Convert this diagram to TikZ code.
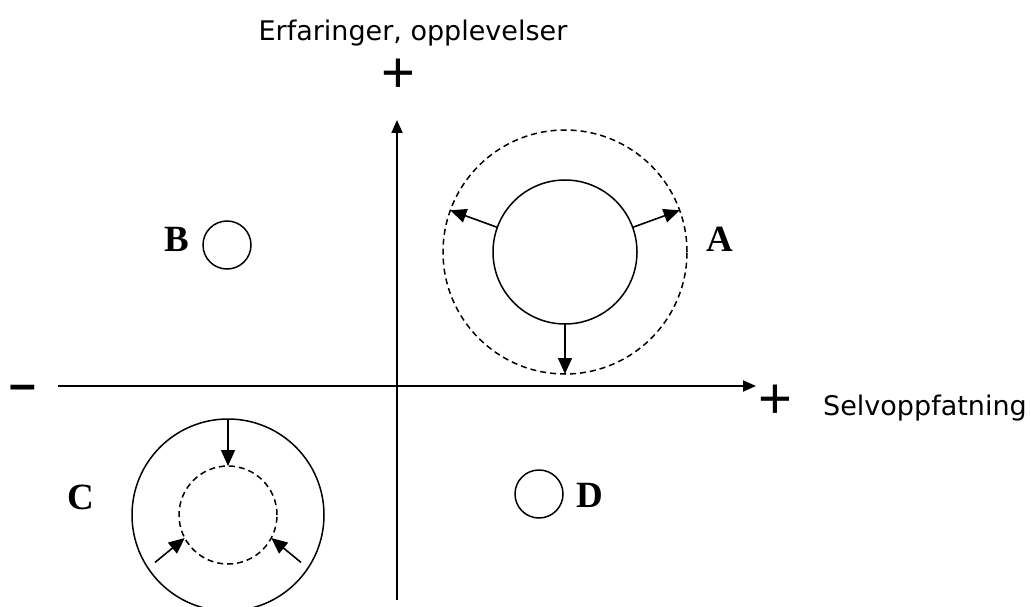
\documentclass[tikz,border=0pt]{standalone}
\usepackage{fontspec}
\usetikzlibrary{arrows.meta,calc}
\newfontfamily\axisfont{DejaVu Sans}
\newfontfamily\signfont{Liberation Sans}
\newfontfamily\letterfont{Liberation Serif}
\tikzset{
  axis/.style={line width=1.8pt, -{Triangle[length=13pt,width=11pt]}},
  ring/.style={circle, draw, line width=1.5pt, inner sep=0pt, outer sep=0pt},
  dashring/.style={ring, dash pattern=on 6pt off 4pt},
  push/.style={line width=1.6pt, -{Triangle[length=16pt,width=14pt]}},
  axislabel/.style={font=\axisfont\fontsize{27}{32}\selectfont, inner sep=0pt},
  sign/.style={font=\signfont\fontsize{58}{60}\selectfont, inner sep=0pt},
  letter/.style={font=\letterfont\bfseries\fontsize{37}{40}\selectfont, inner sep=0pt},
}
\begin{document}
\begin{tikzpicture}[x=1pt, y=-1pt]
  \fill[white] (0,0) rectangle (1031,607);
  \useasboundingbox (0,0) rectangle (1031,607);

  % ---- axes ----------------------------------------------------------------
  \coordinate (xs) at (58,386);
  \coordinate (xe) at (756,386);
  \coordinate (ys) at (397,600);
  \coordinate (ye) at (397,120);
  \draw[axis] (xs) -- (xe);
  \draw[axis] (ys) -- (ye);

  \node[axislabel, anchor=base] (ylab) at (413,41) {Erfaringer, opplevelser};
  \node[axislabel, anchor=base west] (xlab) at (823,415) {Selvoppfatning};
  \node[sign] (yplus) at (398,76) {+};
  \node[sign] (xplus) at (775,402) {+};
  \node[sign, font=\signfont\bfseries\fontsize{48}{50}\selectfont, anchor=base] (xminus) at (23,400) {–};

  % ---- A: growing ------------------------------------------------------------
  \node[dashring, minimum size=244pt] (Aout) at (565,252) {};
  \node[ring, minimum size=144pt] (Ain) at (565,252) {};
  \draw[push] (Ain.160) -- (Aout.160);
  \draw[push] (Ain.20) -- (Aout.20);
  \draw[push] (Ain.270) -- (Aout.270);
  \node[letter] (lA) at (720,239) {A};

  % ---- B and D -----------------------------------------------------------------
  \node[ring, minimum size=48pt] (Bc) at (227,245) {};
  \node[letter] (lB) at (177,239) {B};
  \node[ring, minimum size=48pt] (Dc) at (539,494) {};
  \node[letter] (lD) at (590,495) {D};

  % ---- C: shrinking ------------------------------------------------------------
  \node[ring, minimum size=192pt] (Cout) at (228,515) {};
  \node[dashring, minimum size=98pt] (Cin) at (228,515) {};
  \coordinate (Cl) at ($(Cin.center)+(213:87pt)$);
  \coordinate (Cr) at ($(Cin.center)+(327:87pt)$);
  \draw[push] (Cout.90) -- (Cin.90);
  \draw[push] (Cl) -- (Cin.208);
  \draw[push] (Cr) -- (Cin.332);
  \node[letter] (lC) at (81,497) {C};
\end{tikzpicture}
\end{document}
